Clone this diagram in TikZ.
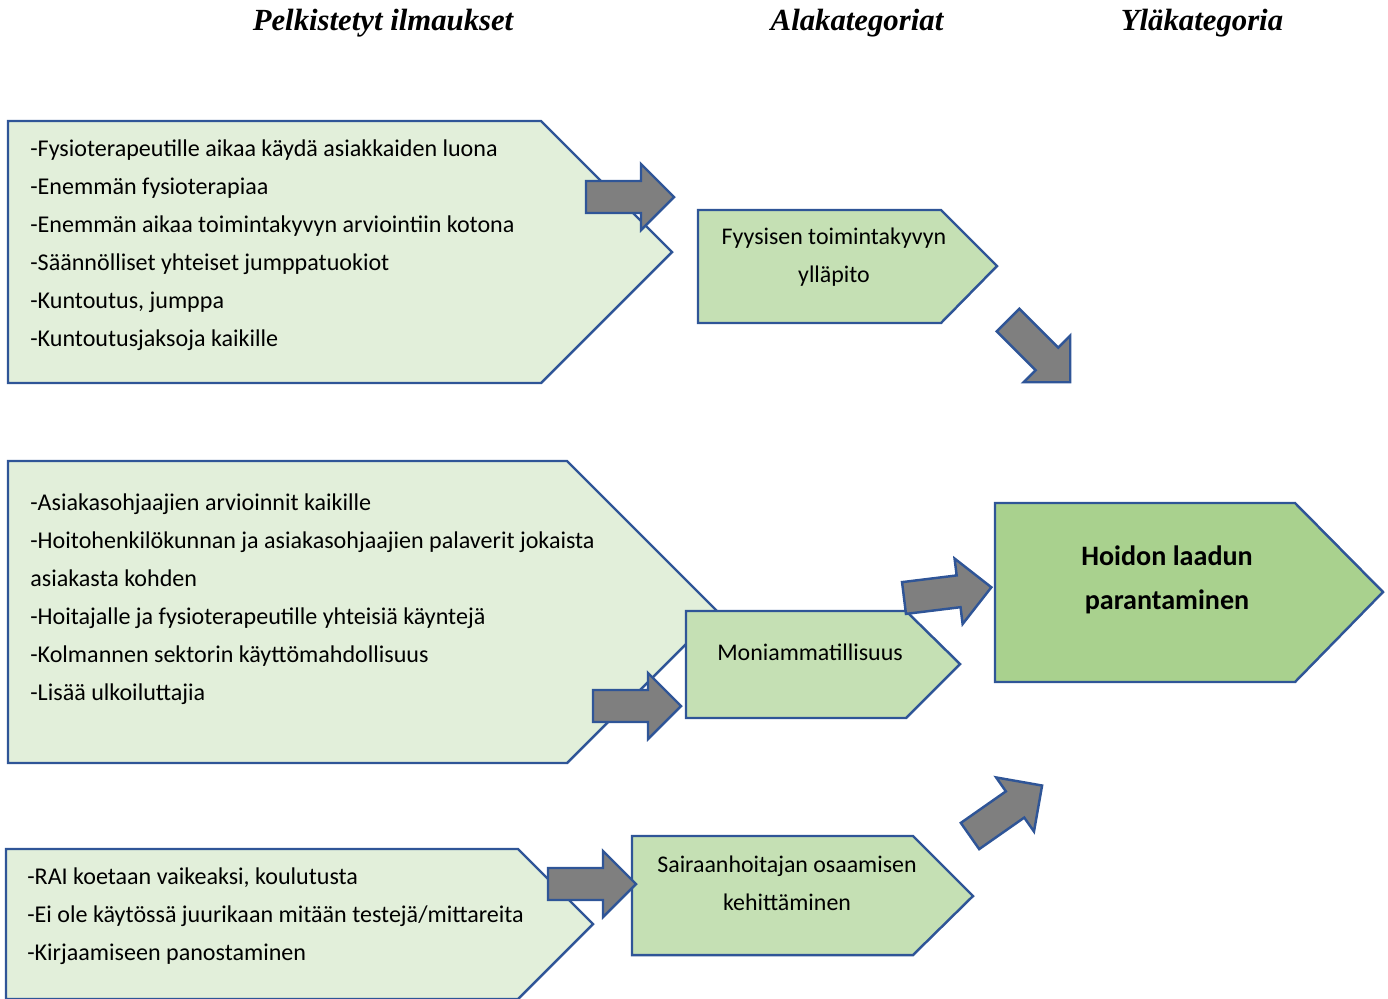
\documentclass[tikz,border=0pt]{standalone}
\usepackage{fontspec}
\setmainfont{Carlito}
\newfontfamily\otsikkofont{Liberation Serif}
\usepackage{xcolor}
\usepackage{tikz}
\usetikzlibrary{calc, positioning}

\definecolor{vaalea}{HTML}{E2EFDA}
\definecolor{keski}{HTML}{C5E0B4}
\definecolor{tumma}{HTML}{A9D18E}
\definecolor{reuna}{HTML}{2F5597}
\definecolor{harmaa}{HTML}{7F7F7F}

\tikzset{
    laatikko/.style={draw=reuna, line width=1.4pt, line join=miter},
    ilmaus/.style={align=left, inner sep=0pt, font=\fontsize{13.7}{21.6}\selectfont},
    kategoria/.style={align=center, inner sep=0pt, font=\fontsize{13.6}{21.6}\selectfont},
    otsikko/.style={inner sep=0pt, font=\otsikkofont\bfseries\itshape\fontsize{17.5}{20}\selectfont},
    nuoli/.pic={
        \draw[laatikko, fill=harmaa] (0,-16) -- (55,-16) -- (55,-33) -- (88,0)
            -- (55,33) -- (55,16) -- (0,16) -- cycle;
    }
}

\begin{document}
\begin{tikzpicture}[x=0.02cm, y=-0.02cm]
    \useasboundingbox (0,0) rectangle (1388,998);

    % otsikot
    \node[otsikko] (otsA) at (383,23) {Pelkistetyt ilmaukset};
    \node[otsikko] (otsB) at (857,23) {Alakategoriat};
    \node[otsikko] (otsC) at (1202,23) {Yläkategoria};

    % pelkistetyt ilmaukset
    \draw[laatikko, fill=vaalea] (8,121) -- (541,121) -- (672,252) -- (541,383) -- (8,383) -- cycle;
    \draw[laatikko, fill=vaalea] (8,461) -- (567,461) -- (718,612) -- (567,763) -- (8,763) -- cycle;
    \draw[laatikko, fill=vaalea] (6,849) -- (518,849) -- (593,924) -- (518,999) -- (6,999) -- cycle;

    \node[ilmaus, anchor=west] (ilm1) at (30,245) {
        -Fysioterapeutille aikaa käydä asiakkaiden luona\\
        -Enemmän fysioterapiaa\\
        -Enemmän aikaa toimintakyvyn arviointiin kotona\\
        -Säännölliset yhteiset jumppatuokiot\\
        -Kuntoutus, jumppa\\
        -Kuntoutusjaksoja kaikille};
    \node[ilmaus, anchor=west] (ilm2) at (30,599) {
        -Asiakasohjaajien arvioinnit kaikille\\
        -Hoitohenkilökunnan ja asiakasohjaajien palaverit jokaista\\
        asiakasta kohden\\
        -Hoitajalle ja fysioterapeutille yhteisiä käyntejä\\
        -Kolmannen sektorin käyttömahdollisuus\\
        -Lisää ulkoiluttajia};
    \node[ilmaus, anchor=west] (ilm3) at (27,916) {
        -RAI koetaan vaikeaksi, koulutusta\\
        -Ei ole käytössä juurikaan mitään testejä/mittareita\\
        -Kirjaamiseen panostaminen};

    % alakategoriat
    \draw[laatikko, fill=keski] (698,210) -- (941,210) -- (997,266) -- (941,323) -- (698,323) -- cycle;
    \draw[laatikko, fill=keski] (686,611) -- (906,611) -- (960,664) -- (906,718) -- (686,718) -- cycle;
    \draw[laatikko, fill=keski] (632,836) -- (913,836) -- (973,896) -- (913,955) -- (632,955) -- cycle;

    \node[kategoria] (fyys) at (834,257) {Fyysisen toimintakyvyn\\ylläpito};
    \node[kategoria] (moni) at (810,652) {Moniammatillisuus};
    \node[kategoria] (sair) at (787,883) {Sairaanhoitajan osaamisen\\kehittäminen};

    % yläkategoria
    \draw[laatikko, fill=tumma] (995,503) -- (1295,503) -- (1383,592) -- (1295,682) -- (995,682) -- cycle;
    \node[kategoria, font=\bfseries\fontsize{16}{25}\selectfont] (hoito) at (1167,580) {Hoidon laadun\\parantaminen};

    % nuolet
    \pic at (586,197) {nuoli};
    \pic at (593,706) {nuoli};
    \pic at (548,884) {nuoli};
    \pic[rotate=7] at (904,598) {nuoli};
    \pic[rotate=-45] at (1008,320) {nuoli};
    \pic[rotate=35] at (970,836) {nuoli};
\end{tikzpicture}
\end{document}
